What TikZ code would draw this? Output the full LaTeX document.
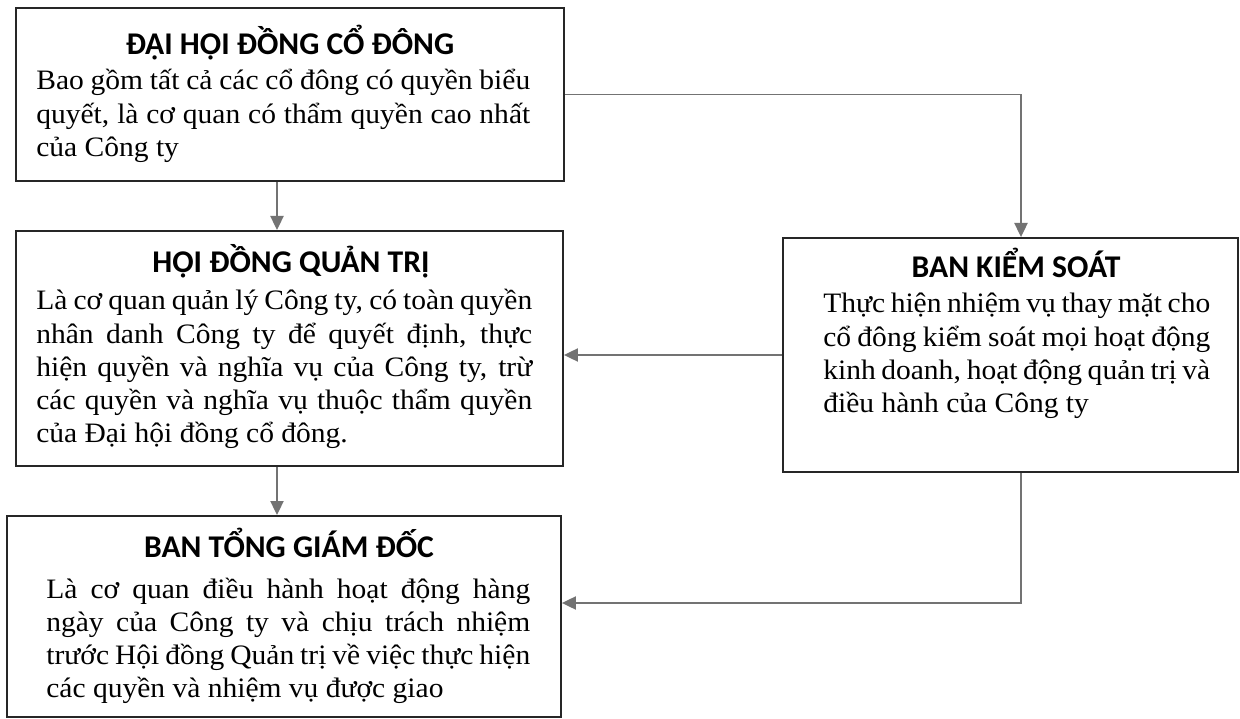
\documentclass[tikz,border=0pt]{standalone}
\usepackage{fontspec}
\setmainfont{Liberation Serif}[FakeStretch=1.05]
\newfontfamily\headfont{Carlito}
\usetikzlibrary{arrows.meta}
\tikzset{
  box/.style={draw=black!85,line width=1.1pt,inner sep=0pt},
  head/.style={anchor=base,inner sep=0pt,font=\headfont\bfseries\fontsize{18}{20}\selectfont},
  body/.style={anchor=base west,inner sep=0pt,font=\fontsize{16}{18.8}\selectfont},
  link/.style={draw=black!55,line width=0.9pt,-{Triangle[length=8pt,width=7.5pt]}}
}
\newcommand{\boxtext}[2]{\parbox[t]{#1}{#2}}

\begin{document}
\begin{tikzpicture}[x=0.02cm,y=-0.02cm]
\useasboundingbox (0,0) rectangle (1240,719);
\node[box,minimum width=10.96cm,minimum height=3.46cm] (dhdcd) at (290,94.5) {};
\node[box,minimum width=10.94cm,minimum height=4.7cm] (hdqt) at (289.5,348.5) {};
\node[box,minimum width=11.08cm,minimum height=4.02cm] (btgd) at (284,616.5) {};
\node[box,minimum width=9.1cm,minimum height=4.68cm] (bks) at (1010.5,355) {};

\node[head] (dhdcd-t) at (290,55) {ĐẠI HỘI ĐỒNG CỔ ĐÔNG};
\node[head] (hdqt-t) at (291,273) {HỘI ĐỒNG QUẢN TRỊ};
\node[head] (btgd-t) at (289,557) {BAN TỔNG GIÁM ĐỐC};
\node[head] (bks-t) at (1016,278) {BAN KIỂM SOÁT};

\node[body] (dhdcd-b) at (36,90) {\boxtext{9.88cm}{Bao gồm tất cả các cổ đông có quyền biểu\linebreak
  quyết, là cơ quan có thẩm quyền cao nhất\linebreak của Công ty}};
\node[body] (hdqt-b) at (36,310) {\boxtext{9.92cm}{Là cơ quan quản lý Công ty, có toàn quyền\linebreak
  nhân danh Công ty để quyết định, thực\linebreak hiện quyền và nghĩa vụ của Công ty, trừ\linebreak
  các quyền và nghĩa vụ thuộc thẩm quyền\linebreak của Đại hội đồng cổ đông.}};
\node[body] (btgd-b) at (46,598) {\boxtext{9.68cm}{Là cơ quan điều hành hoạt động hàng\linebreak
  ngày của Công ty và chịu trách nhiệm\linebreak trước Hội đồng Quản trị về việc thực hiện\linebreak
  các quyền và nhiệm vụ được giao}};
\node[body] (bks-b) at (823,313) {\boxtext{7.74cm}{Thực hiện nhiệm vụ thay mặt cho\linebreak
  cổ đông kiểm soát mọi hoạt động\linebreak kinh doanh, hoạt động quản trị và\linebreak
  điều hành của Công ty}};

\coordinate (axis) at (277,0);
\coordinate (bksx) at (1021,0);
\coordinate (kink) at (1021,603);
\draw[link] (dhdcd.south -| axis) -- (hdqt.north -| axis);
\draw[link] (hdqt.south -| axis) -- (btgd.north -| axis);
\draw[link] (dhdcd.east) -| (bks.north -| bksx);
\draw[link] (bks.west) -- (hdqt.east |- bks.west);
\draw[link] (bks.south -| kink) -- (kink) -- (btgd.east |- kink);
\end{tikzpicture}
\end{document}
